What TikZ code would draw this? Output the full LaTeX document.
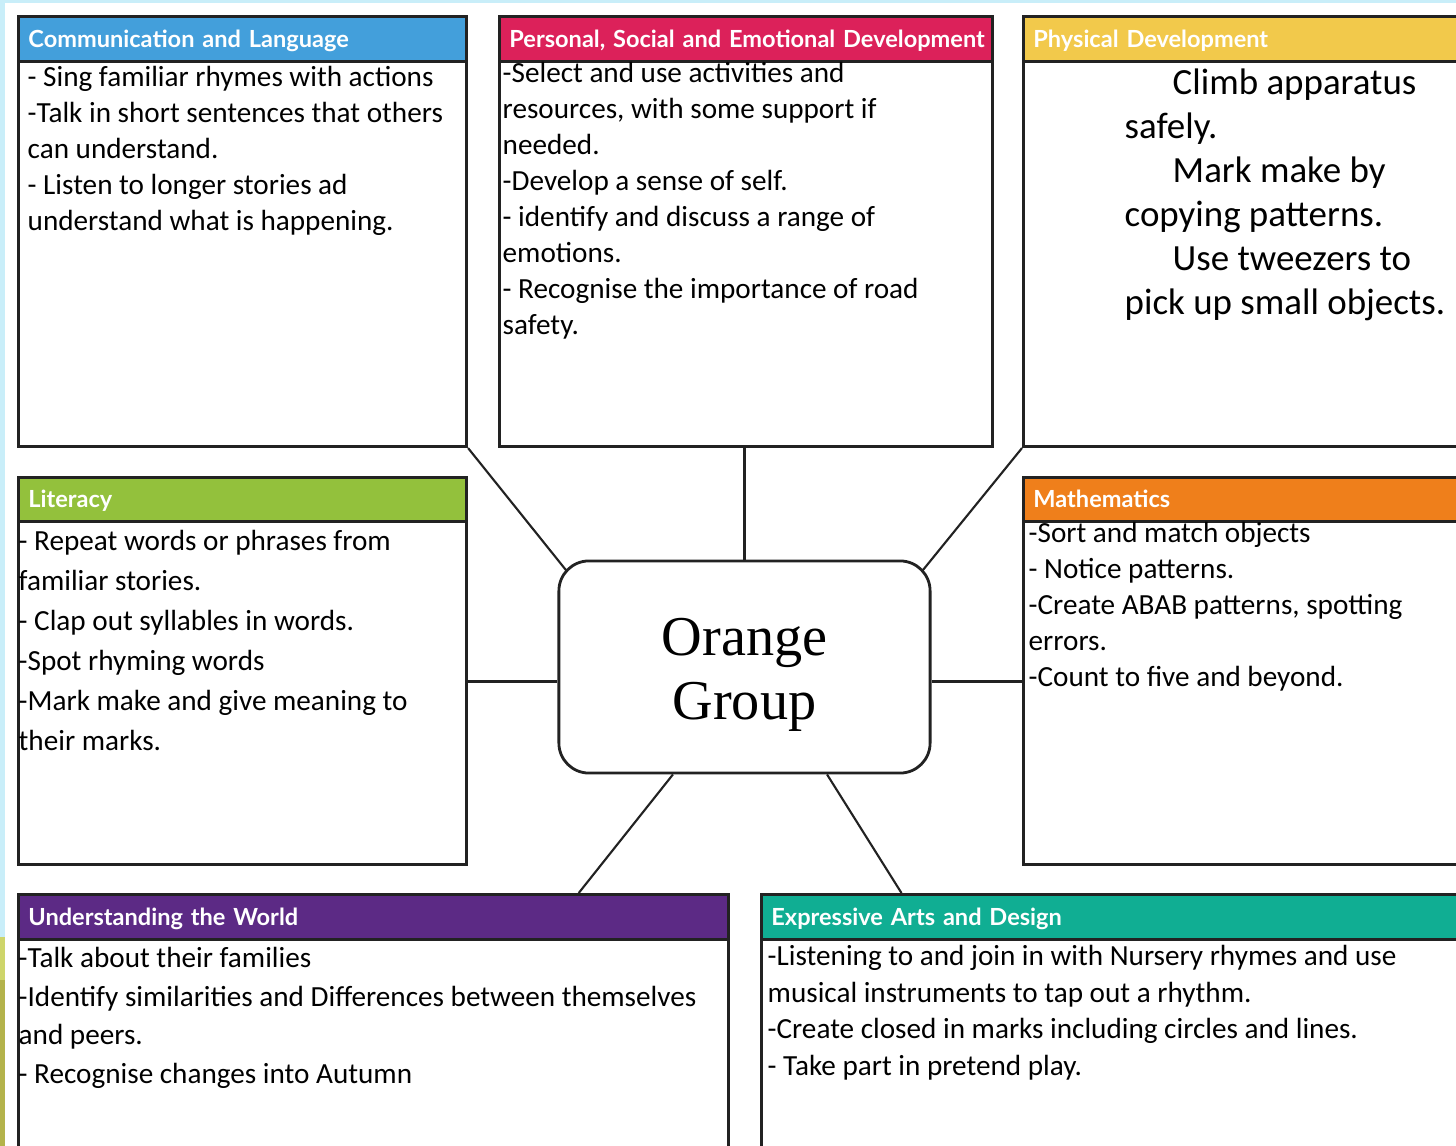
\documentclass[tikz,border=0pt]{standalone}
\usepackage{fontspec}
\setmainfont{Carlito}
\newfontfamily\headfont{Lato}
\newfontfamily\titlefont{Liberation Serif}
\usetikzlibrary{backgrounds}
\definecolor{edge}{HTML}{222222}
\definecolor{clblue}{HTML}{439FDB}
\definecolor{psedred}{HTML}{DC215A}
\definecolor{pdyellow}{HTML}{F2C94B}
\definecolor{litgreen}{HTML}{93C13C}
\definecolor{mathorange}{HTML}{EF7F1B}
\definecolor{uwpurple}{HTML}{5C2A85}
\definecolor{eadteal}{HTML}{10AE93}
\definecolor{frameblue}{HTML}{C9EEF9}
\definecolor{framelime}{HTML}{CED56A}
\definecolor{frameolive}{HTML}{B4B34B}
\begin{document}
\begin{tikzpicture}[x=0.01cm,y=-0.01cm,
  area/.style={draw=edge,line width=0.8pt,fill=white,anchor=north west,inner sep=0pt},
  head/.style={draw=edge,line width=0.8pt,fill=#1,anchor=north west,inner xsep=0.1cm,
    inner ysep=0pt,minimum height=0.45cm,text height=4.7pt,text depth=0pt,text=white,
    align=left,font=\headfont\bfseries\fontsize{6.7}{8}\selectfont},
  items/.style={anchor=base west,inner sep=0pt,align=left},
  link/.style={draw=edge,line width=0.6pt}]
  \useasboundingbox (0,0) rectangle (1456,1146);
  \clip (0,0) rectangle (1456,1146);
  \begin{scope}[on background layer]
    \fill[white] (0,0) rectangle (1456,1146);
    \fill[frameblue] (0,0) rectangle (1456,3);
    \fill[frameblue] (0,0) rectangle (5,937);
    \fill[framelime] (0,937) rectangle (5,980);
    \fill[frameolive] (0,980) rectangle (5,1146);
  \end{scope}

  \node[area,minimum width=4.48cm,minimum height=4.30cm] (cl) at (17,15) {};
  \node[head=clblue,text width=4.28cm] (clhead) at (17,15) {\mbox{Communication and Language}};
  \node[area,minimum width=4.93cm,minimum height=4.30cm] (psed) at (498,15) {};
  \node[head=psedred,text width=4.73cm] (psedhead) at (498,15) {\mbox{Personal, Social and Emotional Development}};
  \node[area,minimum width=5cm,minimum height=4.30cm] (pd) at (1022,15) {};
  \node[head=pdyellow,text width=4.8cm] (pdhead) at (1022,15) {\mbox{Physical Development}};
  \node[area,minimum width=4.48cm,minimum height=3.87cm] (lit) at (17,476) {};
  \node[head=litgreen,text width=4.28cm,minimum height=0.44cm] (lithead) at (17,476) {\mbox{Literacy}};
  \node[area,minimum width=5cm,minimum height=3.87cm] (math) at (1022,476) {};
  \node[head=mathorange,text width=4.8cm,minimum height=0.44cm] (mathhead) at (1022,476) {\mbox{Mathematics}};
  \node[area,minimum width=7.10cm,minimum height=3cm] (uw) at (17,893) {};
  \node[head=uwpurple,text width=6.9cm] (uwhead) at (17,893) {\mbox{Understanding the World}};
  \node[area,minimum width=7cm,minimum height=3cm] (ead) at (760,893) {};
  \node[head=eadteal,text width=6.8cm] (eadhead) at (760,893) {\mbox{Expressive Arts and Design}};

  \node[draw=edge,line width=0.8pt,fill=white,rounded corners=0.3cm,minimum width=3.71cm,
    minimum height=2.12cm] (og) at (744.5,667) {};
  \node[align=center,font=\titlefont\fontsize{16}{18.2}\selectfont] (ogtext) at (744.5,674.5) {Orange\\Group};

  \coordinate (litlink) at ([yshift=-1.05mm]lit.east);
  \coordinate (mathlink) at ([yshift=-1.05mm]math.west);
  \begin{scope}[on background layer]
    \path[link] (cl.south east) edge[shorten >=-2mm] (og.north west)
      (og.north |- psed.south) edge (og.north)
      (pd.south west) edge[shorten >=-2mm] (og.north east)
      (litlink) edge (og.west |- litlink)
      (mathlink) edge (og.east |- mathlink)
      ([xshift=2.05cm]uw.north) edge ([xshift=-0.715cm]og.south)
      ([xshift=-2.1cm]ead.north) edge ([xshift=0.825cm]og.south);
  \end{scope}

  \node[items,font=\fontsize{8.3}{10.24}\selectfont] (cltext) at (27,231)
    {- Sing familiar rhymes with actions\\-Talk in short sentences that others\\can understand.\\- Listen to longer stories ad\\understand what is happening.};
  \node[items,font=\fontsize{8.3}{10.24}\selectfont] (psedtext) at (502,335)
    {-Select and use activities and\\resources, with some support if\\needed.\\-Develop a sense of self.\\- identify and discuss a range of\\emotions.\\- Recognise the importance of road\\safety.};
  \node[items,font=\fontsize{10.5}{12.5}\selectfont] (pdtext) at (1124,314.5)
    {\hspace{0.48cm}Climb apparatus\\safely.\\\hspace{0.48cm}Mark make by\\copying patterns.\\\hspace{0.48cm}Use tweezers to\\pick up small objects.};
  \node[items,font=\fontsize{8.3}{11.4}\selectfont] (littext) at (18,750.5)
    {- Repeat words or phrases from\\familiar stories.\\- Clap out syllables in words.\\-Spot rhyming words\\-Mark make and give meaning to\\their marks.};
  \node[items,font=\fontsize{8.3}{10.24}\selectfont] (mathtext) at (1028,687)
    {-Sort and match objects\\- Notice patterns.\\-Create ABAB patterns, spotting\\errors.\\-Count to five and beyond.};
  \node[items,font=\fontsize{8.3}{10.95}\selectfont] (uwtext) at (18,1083.5)
    {-Talk about their families\\-Identify similarities and Differences between themselves\\and peers.\\- Recognise changes into Autumn};
  \node[items,font=\fontsize{8.3}{10.4}\selectfont] (eadtext) at (767,1075.5)
    {-Listening to and join in with Nursery rhymes and use\\musical instruments to tap out a rhythm.\\-Create closed in marks including circles and lines.\\- Take part in pretend play.};
\end{tikzpicture}
\end{document}
